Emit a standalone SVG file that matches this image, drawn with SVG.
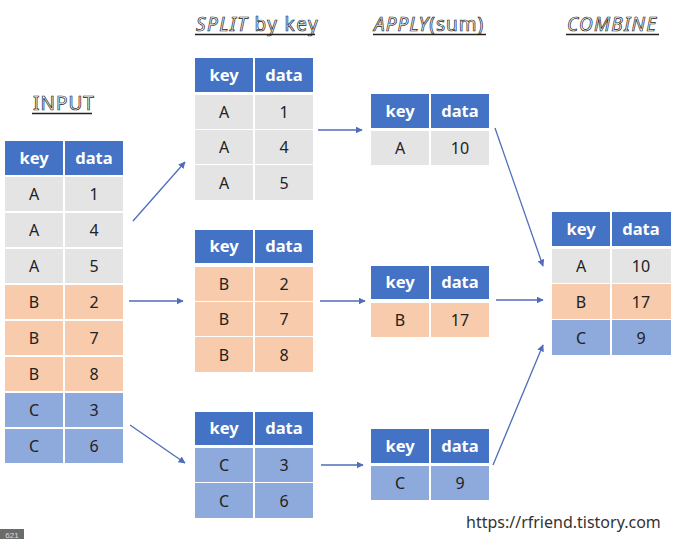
<svg xmlns="http://www.w3.org/2000/svg" width="690" height="539" viewBox="0 0 690 539">
<defs>
<style>
.hd{fill:#4472C4}
.a{fill:#E5E4E4}
.b{fill:#F7CBAC}
.c{fill:#8EA9DB}
.ht{font-family:"Noto Sans","Open Sans",sans-serif;font-size:16.500px;font-weight:bold;fill:#fff;text-anchor:middle}
.ct{font-family:"Noto Sans","Open Sans",sans-serif;font-size:16px;fill:#222;text-anchor:middle}
.ti{font-family:"Noto Sans","Open Sans",sans-serif;font-size:19px;fill:#fff;stroke:#222;stroke-width:0.7;letter-spacing:1px}
.ul{stroke:#222;stroke-width:1.3}
.con{stroke:#4F6DB8;stroke-width:1.3;fill:none;marker-end:url(#ah)}
</style>
<marker id="ah" viewBox="0 0 10 10" refX="9" refY="5" markerWidth="7" markerHeight="7" orient="auto" markerUnits="userSpaceOnUse">
<path d="M0,0 L10,5 L0,10 z" fill="#4F6DB8"/>
</marker>
</defs>
<rect width="690" height="539" fill="#fff"/>

<!-- titles -->
<g id="title-input">
<text class="ti" x="33" y="110">INPUT</text>
<line class="ul" x1="32" y1="113.500" x2="92" y2="113.500"/>
</g>
<g id="title-split">
<text class="ti" x="196" y="31" style="letter-spacing:1.4px"><tspan font-style="italic">SPLIT</tspan> by key</text>
<line class="ul" x1="195" y1="34.500" x2="315" y2="34.500"/>
</g>
<g id="title-apply">
<text class="ti" x="374" y="31"><tspan font-style="italic">APPLY</tspan>(sum)</text>
<line class="ul" x1="373" y1="34.500" x2="486" y2="34.500"/>
</g>
<g id="title-combine">
<text class="ti" x="567" y="31" font-style="italic" style="letter-spacing:1.3px">COMBINE</text>
<line class="ul" x1="566" y1="34.500" x2="659" y2="34.500"/>
</g>

<!-- INPUT table -->
<g id="input-table" transform="translate(5,0)">
<rect class="hd" x="0" y="141" width="58" height="34"/><rect class="hd" x="60" y="141" width="58" height="34"/>
<text class="ht" x="29" y="164">key</text><text class="ht" x="89" y="164">data</text>
<rect class="a" x="0" y="177" width="58" height="34"/><rect class="a" x="60" y="177" width="58" height="34"/>
<text class="ct" x="29" y="200">A</text><text class="ct" x="89" y="200">1</text>
<rect class="a" x="0" y="213" width="58" height="34"/><rect class="a" x="60" y="213" width="58" height="34"/>
<text class="ct" x="29" y="236">A</text><text class="ct" x="89" y="236">4</text>
<rect class="a" x="0" y="249" width="58" height="34"/><rect class="a" x="60" y="249" width="58" height="34"/>
<text class="ct" x="29" y="272">A</text><text class="ct" x="89" y="272">5</text>
<rect class="b" x="0" y="285" width="58" height="34"/><rect class="b" x="60" y="285" width="58" height="34"/>
<text class="ct" x="29" y="308">B</text><text class="ct" x="89" y="308">2</text>
<rect class="b" x="0" y="321" width="58" height="34"/><rect class="b" x="60" y="321" width="58" height="34"/>
<text class="ct" x="29" y="344">B</text><text class="ct" x="89" y="344">7</text>
<rect class="b" x="0" y="357" width="58" height="34"/><rect class="b" x="60" y="357" width="58" height="34"/>
<text class="ct" x="29" y="380">B</text><text class="ct" x="89" y="380">8</text>
<rect class="c" x="0" y="393" width="58" height="34"/><rect class="c" x="60" y="393" width="58" height="34"/>
<text class="ct" x="29" y="416">C</text><text class="ct" x="89" y="416">3</text>
<rect class="c" x="0" y="429" width="58" height="34"/><rect class="c" x="60" y="429" width="58" height="34"/>
<text class="ct" x="29" y="452">C</text><text class="ct" x="89" y="452">6</text>
</g>

<!-- SPLIT tables -->
<g id="split-a" transform="translate(195,0)">
<rect class="hd" x="0" y="58" width="58" height="34"/><rect class="hd" x="60" y="58" width="58" height="34"/>
<text class="ht" x="29" y="81">key</text><text class="ht" x="89" y="81">data</text>
<rect class="a" x="0" y="95" width="58" height="34"/><rect class="a" x="60" y="95" width="58" height="34"/>
<text class="ct" x="29" y="118">A</text><text class="ct" x="89" y="118">1</text>
<rect class="a" x="0" y="130" width="58" height="34"/><rect class="a" x="60" y="130" width="58" height="34"/>
<text class="ct" x="29" y="153">A</text><text class="ct" x="89" y="153">4</text>
<rect class="a" x="0" y="165" width="58" height="35"/><rect class="a" x="60" y="165" width="58" height="35"/>
<text class="ct" x="29" y="189">A</text><text class="ct" x="89" y="189">5</text>
</g>
<g id="split-b" transform="translate(195,0)">
<rect class="hd" x="0" y="230" width="58" height="33"/><rect class="hd" x="60" y="230" width="58" height="33"/>
<text class="ht" x="29" y="252">key</text><text class="ht" x="89" y="252">data</text>
<rect class="b" x="0" y="267" width="58" height="34"/><rect class="b" x="60" y="267" width="58" height="34"/>
<text class="ct" x="29" y="290">B</text><text class="ct" x="89" y="290">2</text>
<rect class="b" x="0" y="302" width="58" height="34"/><rect class="b" x="60" y="302" width="58" height="34"/>
<text class="ct" x="29" y="325">B</text><text class="ct" x="89" y="325">7</text>
<rect class="b" x="0" y="337" width="58" height="35"/><rect class="b" x="60" y="337" width="58" height="35"/>
<text class="ct" x="29" y="361">B</text><text class="ct" x="89" y="361">8</text>
</g>
<g id="split-c" transform="translate(195,0)">
<rect class="hd" x="0" y="412" width="58" height="33"/><rect class="hd" x="60" y="412" width="58" height="33"/>
<text class="ht" x="29" y="434">key</text><text class="ht" x="89" y="434">data</text>
<rect class="c" x="0" y="448" width="58" height="34"/><rect class="c" x="60" y="448" width="58" height="34"/>
<text class="ct" x="29" y="471">C</text><text class="ct" x="89" y="471">3</text>
<rect class="c" x="0" y="483" width="58" height="35"/><rect class="c" x="60" y="483" width="58" height="35"/>
<text class="ct" x="29" y="507">C</text><text class="ct" x="89" y="507">6</text>
</g>

<!-- APPLY tables -->
<g id="apply-a" transform="translate(371,0)">
<rect class="hd" x="0" y="94" width="58" height="34"/><rect class="hd" x="60" y="94" width="58" height="34"/>
<text class="ht" x="29" y="117">key</text><text class="ht" x="89" y="117">data</text>
<rect class="a" x="0" y="131" width="58" height="34"/><rect class="a" x="60" y="131" width="58" height="34"/>
<text class="ct" x="29" y="154">A</text><text class="ct" x="89" y="154">10</text>
</g>
<g id="apply-b" transform="translate(371,0)">
<rect class="hd" x="0" y="266" width="58" height="33"/><rect class="hd" x="60" y="266" width="58" height="33"/>
<text class="ht" x="29" y="288">key</text><text class="ht" x="89" y="288">data</text>
<rect class="b" x="0" y="303" width="58" height="34"/><rect class="b" x="60" y="303" width="58" height="34"/>
<text class="ct" x="29" y="326">B</text><text class="ct" x="89" y="326">17</text>
</g>
<g id="apply-c" transform="translate(371,0)">
<rect class="hd" x="0" y="429" width="58" height="34"/><rect class="hd" x="60" y="429" width="58" height="34"/>
<text class="ht" x="29" y="452">key</text><text class="ht" x="89" y="452">data</text>
<rect class="c" x="0" y="466" width="58" height="34"/><rect class="c" x="60" y="466" width="58" height="34"/>
<text class="ct" x="29" y="489">C</text><text class="ct" x="89" y="489">9</text>
</g>

<!-- COMBINE table -->
<g id="combine" transform="translate(552,0)">
<rect class="hd" x="0" y="212" width="58" height="34"/><rect class="hd" x="60" y="212" width="59" height="34"/>
<text class="ht" x="29" y="235">key</text><text class="ht" x="89" y="235">data</text>
<rect class="a" x="0" y="249" width="58" height="34"/><rect class="a" x="60" y="249" width="59" height="34"/>
<text class="ct" x="29" y="272">A</text><text class="ct" x="89" y="272">10</text>
<rect class="b" x="0" y="284" width="58" height="35"/><rect class="b" x="60" y="284" width="59" height="35"/>
<text class="ct" x="29" y="308">B</text><text class="ct" x="89" y="308">17</text>
<rect class="c" x="0" y="320" width="58" height="35"/><rect class="c" x="60" y="320" width="59" height="35"/>
<text class="ct" x="29" y="344">C</text><text class="ct" x="89" y="344">9</text>
</g>

<!-- connectors -->
<g id="connectors">
<line class="con" x1="133" y1="221" x2="185" y2="162"/>
<line class="con" x1="129" y1="301" x2="183" y2="301"/>
<line class="con" x1="130" y1="425" x2="185" y2="463"/>
<line class="con" x1="318" y1="130" x2="362" y2="130"/>
<line class="con" x1="320" y1="301" x2="365" y2="301"/>
<line class="con" x1="321" y1="465" x2="363" y2="465"/>
<line class="con" x1="495" y1="128" x2="543" y2="266"/>
<line class="con" x1="496" y1="300" x2="543" y2="300"/>
<line class="con" x1="493" y1="465" x2="543" y2="345"/>
</g>

<text x="466" y="528" font-family="'Noto Sans','Open Sans',sans-serif" font-size="16" fill="#333">https://rfriend.tistory.com</text>

<g id="badge">
<rect x="0" y="529" width="24" height="10" fill="#6b6b6b"/>
<text x="12" y="538" font-family="'Liberation Sans',sans-serif" font-size="8" fill="#ddd" text-anchor="middle">621</text>
</g>
</svg>
